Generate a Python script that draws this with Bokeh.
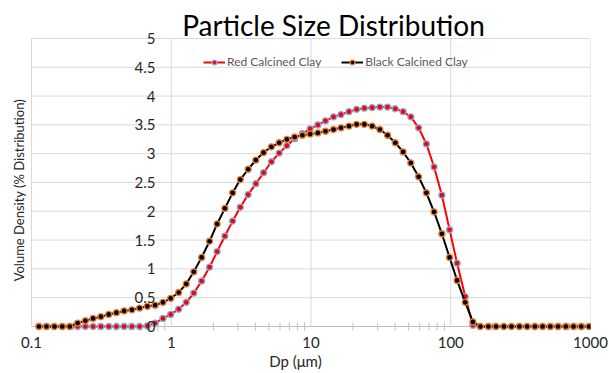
import math
from bokeh.plotting import figure
from bokeh.models import (FixedTicker, Legend, LegendItem, Range1d,
                          ColumnDataSource, Label)
from bokeh.embed import file_html
from bokeh.resources import INLINE

# ---- data ----
sizes_um = [0.113, 0.128, 0.146, 0.166, 0.188, 0.214, 0.243, 0.276, 0.314, 0.357,
            0.405, 0.460, 0.523, 0.594, 0.675, 0.767, 0.872, 0.991,
            1.13, 1.28, 1.45, 1.65, 1.88, 2.13, 2.42, 2.75, 3.12, 3.55,
            4.03, 4.58, 5.21, 5.92, 6.72, 7.64, 8.68, 9.86,
            11.2, 12.7, 14.5, 16.4, 18.7, 21.2, 24.1, 27.4, 31.1, 35.3,
            40.1, 45.6, 51.8, 58.9, 66.9, 76.0, 86.4, 98.1,
            111, 127, 144, 163, 186, 211, 240, 272, 310, 352,
            400, 454, 516, 586, 666, 756, 859, 976]

red_clay = [0, 0, 0, 0, 0, 0, 0, 0, 0, 0,
            0, 0, 0, 0, 0.01, 0.06, 0.14, 0.21,
            0.30, 0.42, 0.58, 0.79, 1.03, 1.30, 1.57, 1.83, 2.07, 2.29,
            2.48, 2.67, 2.86, 3.01, 3.14, 3.26, 3.35, 3.43,
            3.50, 3.57, 3.64, 3.68, 3.73, 3.77, 3.79, 3.80, 3.81, 3.81,
            3.78, 3.73, 3.64, 3.45, 3.17, 2.77, 2.28, 1.68,
            1.10, 0.52, 0.02, 0, 0, 0, 0, 0, 0, 0,
            0, 0, 0, 0, 0, 0, 0, 0]

black_clay = [0, 0, 0, 0, 0, 0.06, 0.10, 0.14, 0.17, 0.21,
              0.24, 0.27, 0.29, 0.32, 0.35, 0.37, 0.42, 0.49,
              0.59, 0.74, 0.95, 1.20, 1.48, 1.78, 2.05, 2.32, 2.55, 2.73,
              2.89, 3.02, 3.12, 3.19, 3.25, 3.29, 3.32, 3.34,
              3.36, 3.39, 3.42, 3.45, 3.48, 3.51, 3.51, 3.48, 3.42, 3.32,
              3.19, 3.03, 2.84, 2.60, 2.32, 1.99, 1.61, 1.20,
              0.80, 0.42, 0.08, 0, 0, 0, 0, 0, 0, 0,
              0, 0, 0, 0, 0, 0, 0, 0]

x_major_ticks = [0.1, 1, 10, 100, 1000]
x_tick_labels = ["0.1", "1", "10", "100", "1000"]
x_minor_ticks = [0.2, 0.3, 0.4, 0.5, 0.6, 0.7, 0.8, 0.9,
                 2, 3, 4, 5, 6, 7, 8, 9,
                 20, 30, 40, 50, 60, 70, 80, 90,
                 200, 300, 400, 500, 600, 700, 800, 900]
y_ticks = [0, 0.5, 1, 1.5, 2, 2.5, 3, 3.5, 4, 4.5, 5]
y_tick_labels = ["0", "0.5", "1", "1.5", "2", "2.5", "3", "3.5", "4", "4.5", "5"]

X_MIN, X_MAX = 0.1, 1000
Y_MIN, Y_MAX = 0, 5

FONT = "Lato"
TXT = "#262626"
GRID = "#D9D9D9"
AXIS = "#BFBFBF"

# layout: the data frame fills the canvas top/left so that texts placed
# outside the plotting area (Excel style) are not clipped
W, H = 609, 373
PX_LEFT, PX_RIGHT = 31, 590          # pixel x of 0.1 and 1000
PX_TOP, PX_ZERO, PX_BOTTOM = 38, 326, 334   # pixel y of 5, 0, frame bottom
dec_px = (PX_RIGHT - PX_LEFT) / math.log10(X_MAX / X_MIN)
unit_px = (PX_ZERO - PX_TOP) / (Y_MAX - Y_MIN)
x_start = X_MIN / 10 ** (PX_LEFT / dec_px)
y_top = Y_MAX + PX_TOP / unit_px
y_bottom = Y_MIN - (PX_BOTTOM - PX_ZERO) / unit_px

def x_at(px):
    return X_MIN * 10 ** ((px - PX_LEFT) / dec_px)

def y_at(py):
    return Y_MIN + (PX_ZERO - py) / unit_px

p = figure(width=W, height=H, x_axis_type="log",
           x_range=Range1d(x_start, X_MAX), y_range=Range1d(y_bottom, y_top),
           output_backend="svg", toolbar_location=None,
           min_border_left=0, min_border_right=W - PX_RIGHT, min_border_top=0,
           min_border_bottom=H - PX_BOTTOM)

p.outline_line_color = None
p.background_fill_color = "white"
p.border_fill_color = "white"
p.xgrid.grid_line_color = None
p.ygrid.grid_line_color = None
p.yaxis.visible = False

# x axis: tick labels and title (no line/ticks; those are drawn at y=0 below)
xa = p.xaxis[0]
xa.ticker = FixedTicker(ticks=x_major_ticks, minor_ticks=[])
xa.axis_line_color = None
xa.major_tick_in = 0
xa.major_tick_out = 0
xa.minor_tick_in = 0
xa.minor_tick_out = 0
xa.major_label_standoff = 2
xa.major_label_text_font = FONT
xa.major_label_text_font_size = "15px"
xa.major_label_text_color = TXT
xa.major_label_overrides = dict(zip(x_major_ticks, x_tick_labels))
xa.axis_label = "Dp (\u03bcm)"
xa.axis_label_text_font = FONT
xa.axis_label_text_font_size = "15px"
xa.axis_label_text_font_style = "normal"
xa.axis_label_text_color = TXT
xa.axis_label_standoff = 1

# gridlines (plot area 0.1..1000 x 0..5)
hy = [v for v in y_ticks if v > 0]
p.segment(x0=[X_MIN] * len(hy), y0=hy, x1=[X_MAX] * len(hy), y1=hy,
          line_color=GRID, line_width=1)
p.segment(x0=x_major_ticks, y0=[Y_MIN] * len(x_major_ticks),
          x1=x_major_ticks, y1=[Y_MAX] * len(x_major_ticks),
          line_color=GRID, line_width=1)
# horizontal axis line at y=0 with crossing minor ticks
tick_half = 4 / unit_px
p.segment(x0=x_minor_ticks, y0=[-tick_half] * len(x_minor_ticks),
          x1=x_minor_ticks, y1=[tick_half] * len(x_minor_ticks),
          line_color=AXIS, line_width=1)
p.segment(x0=[X_MIN], y0=[0], x1=[X_MAX], y1=[0], line_color=AXIS, line_width=1)

src = ColumnDataSource(dict(x=sizes_um, red=red_clay, black=black_clay))

r_line = p.line("x", "red", source=src, line_color="#FF0000", line_width=2)
r_pts = p.scatter("x", "red", source=src, size=6, fill_color="#FF0000",
                  line_color="#7FAEDC", line_width=1.3)
b_line = p.line("x", "black", source=src, line_color="#000000", line_width=2)
b_pts = p.scatter("x", "black", source=src, size=6, fill_color="#000000",
                  line_color="#ED7D31", line_width=1.3)

# Excel-style y tick labels where the vertical axis crosses
y_label_x = x_at(157)
for v, t in zip(y_ticks, y_tick_labels):
    p.add_layout(Label(x=y_label_x, y=v, text=t, text_align="right",
                       text_baseline="middle", x_offset=-2,
                       text_font=FONT, text_font_size="15px", text_color=TXT))

# chart title
p.add_layout(Label(x=x_at(333), y=y_at(24), text="Particle Size Distribution",
                   text_align="center", text_baseline="middle",
                   text_font=FONT, text_font_size="28px", text_color="#000000"))
# y axis title
p.add_layout(Label(x=x_at(18), y=y_at(188), text="Volume Density  (% Distribution)",
                   text_align="center", text_baseline="middle", angle=math.pi / 2,
                   text_font=FONT, text_font_size="13px", text_color=TXT))

legend = Legend(items=[LegendItem(label="Red Calcined Clay", renderers=[r_line, r_pts]),
                       LegendItem(label="Black Calcined Clay", renderers=[b_line, b_pts])],
                orientation="horizontal", location=(203, 265),
                padding=0, margin=0, spacing=20, label_standoff=2,
                glyph_width=22, glyph_height=12, label_height=12,
                label_text_font=FONT, label_text_font_size="12px",
                label_text_color="#595959",
                background_fill_alpha=0, border_line_color=None)
p.add_layout(legend, "center")

open("out.html", "w").write(file_html(p, INLINE))
